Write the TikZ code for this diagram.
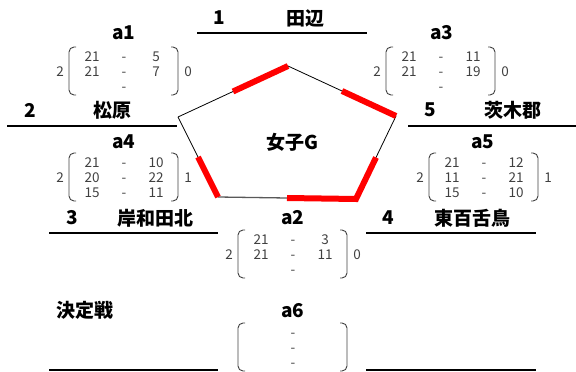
\documentclass[tikz,border=0pt]{standalone}
\usepackage{fontspec}
\setmainfont{Noto Sans CJK JP}
\usetikzlibrary{calc}
\definecolor{numgray}{HTML}{404040}
\definecolor{edgegray}{HTML}{595959}
\tikzset{
  title/.style={font=\bfseries\fontsize{19}{19}\selectfont, inner sep=0pt, anchor=center},
  num/.style={font=\fontsize{13.5}{13.5}\selectfont, text=numgray, inner sep=0pt, text height=10pt, text depth=0pt},
  teamline/.style={line width=2pt},
  pedge/.style={line width=0.8pt},
  win/.style={red, line width=6pt, line join=miter},
  paren/.style={line width=0.9pt, numgray, rounded corners=5pt},
}
% #1 name, #2 cx, #3 cy, #4 left, #5 right, #6 rows
\newcommand\scorebox[6]{%
  \begin{scope}[shift={(#2,#3)}]
    \coordinate (#1) at (0,0);
    \draw[paren] (-48,-24) -- (-55,-24) -- (-55,24) -- (-48,24);
    \draw[paren] (47,-24) -- (54,-24) -- (54,24) -- (47,24);
    \if\relax\detokenize{#4}\relax\else
      \node[num] (#1-left) at (-64,0) {#4};
      \node[num] (#1-right) at (64,0) {#5};
    \fi
    \foreach \l/\r [count=\i] in {#6} {
      \node[num] (#1-l\i) at (-32,{(\i-2)*15}) {\l};
      \node[num] (#1-d\i) at (0,{(\i-2)*15}) {-};
      \node[num] (#1-r\i) at (32,{(\i-2)*15}) {\r};
    }
  \end{scope}}
\begin{document}
\begin{tikzpicture}[x=1pt,y=-1pt]
\useasboundingbox (0,0) rectangle (576,372);
% pentagon
\coordinate (T) at (288,66);
\coordinate (L) at (178,117);
\coordinate (R) at (396,116);
\coordinate (BL) at (218,197);
\coordinate (BR) at (356,199);
\draw[pedge] (L) -- (T) -- (R) -- (BR);
\draw[pedge] (L) -- (BL);
\draw[edgegray, line width=1.3pt] (BL) -- (BR);
\draw[win] ($(L)!0.5!(T)$) -- (T);
\draw[win] ($(T)!0.5!(R)$) -- (R);
\draw[win] ($(R)!0.5!(BR)$) -- (BR) -- ($(BR)!0.5!(BL)$);
\draw[win] ($(L)!0.5!(BL)$) -- (BL);
\node[title] (grp) at (292,142) {女子G};
% teams
\node[title] (n1) at (219,18) {1};
\node[title] (t1) at (305,18) {田辺};
\draw[teamline] (197,33) -- (367,33);
\node[title] (n2) at (30,110) {2};
\node[title] (t2) at (112,110) {松原};
\draw[teamline] (7,126) -- (177,126);
\node[title] (n5) at (430,110) {5};
\node[title] (t5) at (513,110) {茨木郡};
\draw[teamline] (408,126) -- (576,126);
\node[title] (n3) at (72,218) {3};
\node[title] (t3) at (155,218) {岸和田北};
\draw[teamline] (49,233) -- (218,233);
\node[title] (n4) at (388,218) {4};
\node[title] (t4) at (472,218) {東百舌鳥};
\draw[teamline] (366,233) -- (536,233);
\node[title] (kt) at (85,310) {決定戦};
\draw[teamline] (49,370) -- (218,370);
\draw[teamline] (366,370) -- (536,370);
% match labels
\node[title] (la1) at (124,33) {a1};
\node[title] (la3) at (442,33) {a3};
\node[title] (la4) at (124,142) {a4};
\node[title] (la5) at (483,142) {a5};
\node[title] (la2) at (293,218) {a2};
\node[title] (la6) at (293,311) {a6};
% score boxes
\scorebox{a1}{124}{71}{2}{0}{21/5,21/7,/}
\scorebox{a3}{441}{71}{2}{0}{21/11,21/19,/}
\scorebox{a4}{124}{177}{2}{1}{21/10,20/22,15/11}
\scorebox{a5}{484}{177}{2}{1}{21/12,11/21,15/10}
\scorebox{a2}{293}{254}{2}{0}{21/3,21/11,/}
\scorebox{a6}{293}{347}{}{}{/,/,/}
\end{tikzpicture}
\end{document}
